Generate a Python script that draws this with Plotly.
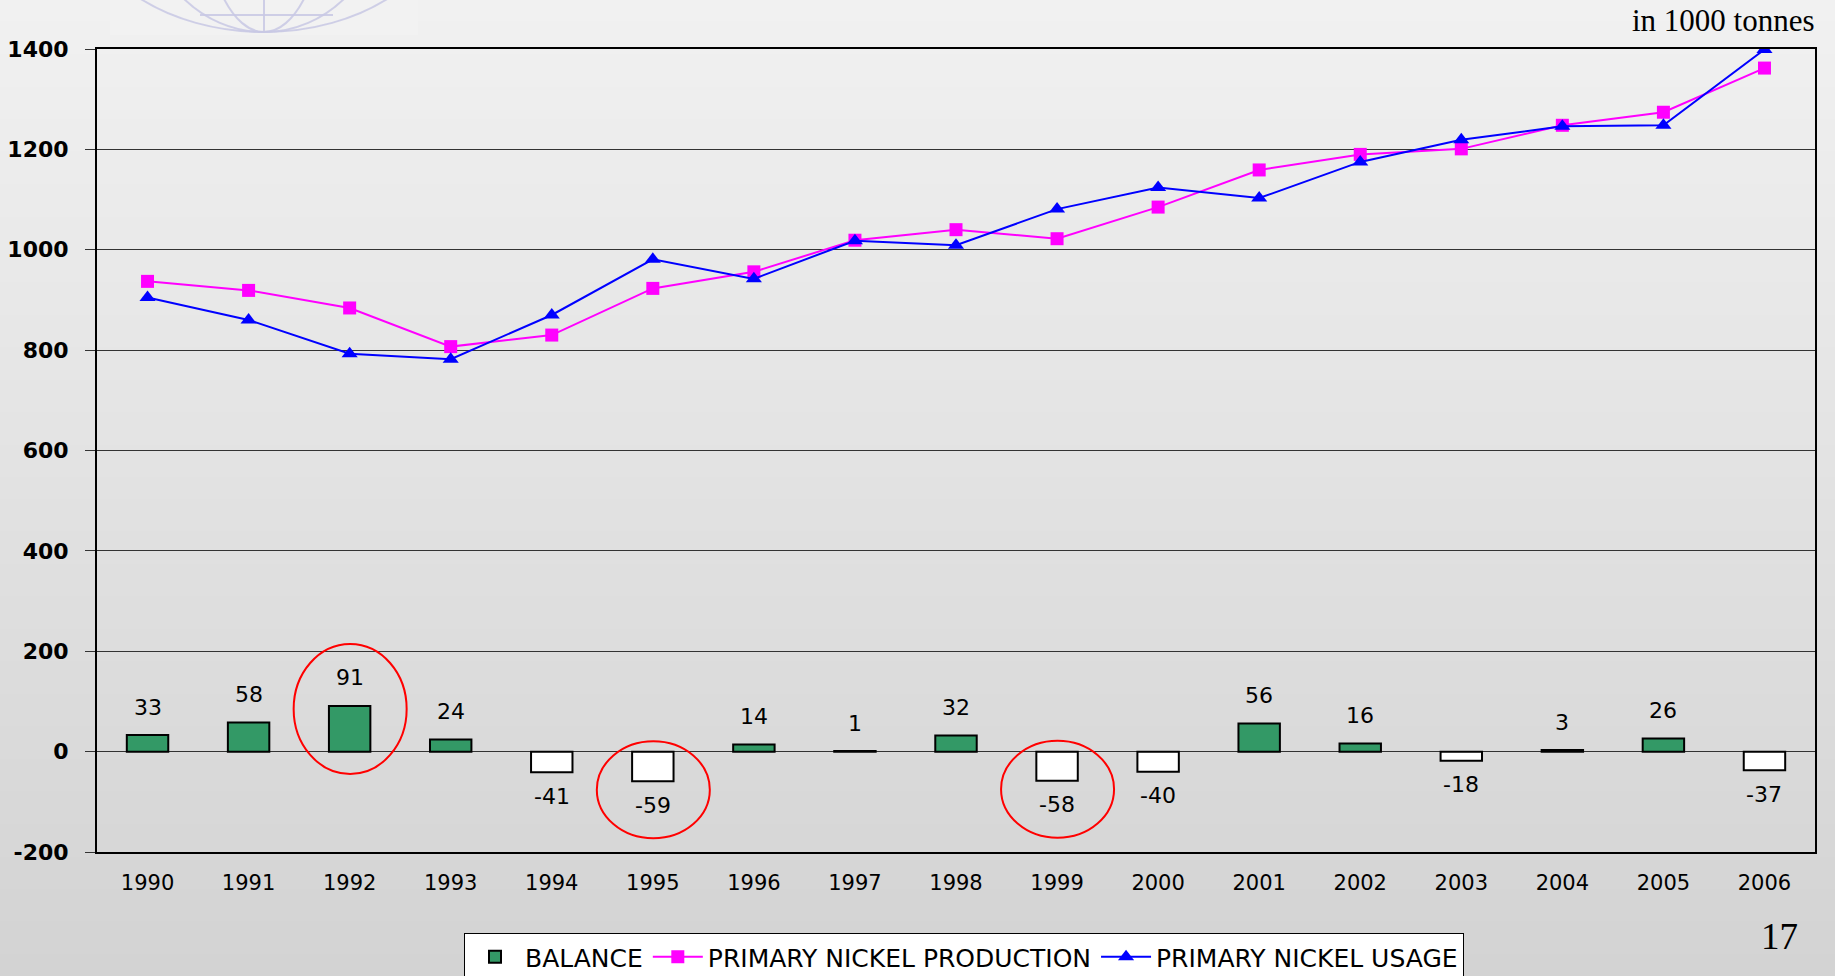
import plotly.graph_objects as go

# ---------------- data ----------------
years = list(range(1990, 2007))
tick_labels = [str(y) for y in years]
balance = [33, 58, 91, 24, -41, -59, 14, 1, 32, -58, -40, 56, 16, -18, 3, 26, -37]
production = [937, 919, 884, 807, 830, 923, 956, 1019, 1040, 1022, 1085, 1159,
              1190, 1201, 1248, 1274, 1362]
usage = [905, 860, 793, 782, 870, 981, 942, 1018, 1009, 1081, 1124, 1103,
         1175, 1219, 1246, 1248, 1399]
y_ticks = list(range(-200, 1401, 200))
y_tick_labels = [str(v) for v in y_ticks]
highlight_years = [1992, 1995, 1999]

# ---------------- layout geometry ----------------
W, H = 1835, 976
L, R, T, B = 97, 20, 49, 124
PW, PH = W - L - R, H - T - B


def px_x(p):
    return (p - L) / PW


def px_y(p):
    return (H - B - p) / PH


GREEN = "#339966"
PINK = "#FF00FF"
BLUE = "#0000FF"
FONT = "DejaVu Sans, Liberation Sans, Arial, sans-serif"
SERIF = "Liberation Serif, Times New Roman, serif"

fig = go.Figure()

fig.add_trace(go.Bar(
    x=years, y=balance, name="BALANCE",
    marker=dict(color=[GREEN if v >= 0 else "#FFFFFF" for v in balance],
                line=dict(color="black", width=2)),
    showlegend=False,
))
# legend entry for balance (green)
fig.add_trace(go.Bar(
    x=[None], y=[None], name="BALANCE",
    marker=dict(color=GREEN, line=dict(color="black", width=2)),
))
fig.add_trace(go.Scatter(
    x=years, y=production, name="PRIMARY NICKEL PRODUCTION",
    mode="lines+markers",
    line=dict(color=PINK, width=2),
    marker=dict(symbol="square", size=13, color=PINK),
))
fig.add_trace(go.Scatter(
    x=years, y=usage, name="PRIMARY NICKEL USAGE",
    mode="lines+markers",
    line=dict(color=BLUE, width=2),
    marker=dict(symbol="triangle-up", size=14, color=BLUE),
))

# data labels
annotations = []
for yr, v in zip(years, balance):
    annotations.append(dict(
        x=yr, y=v, xref="x", yref="y", text=str(v), showarrow=False,
        yshift=28 if v >= 0 else -24, yanchor="middle",
        font=dict(family=FONT, size=22, color="black"),
    ))

annotations.append(dict(
    x=px_x(1817), y=px_y(20), xref="paper", yref="paper",
    text="in 1000 tonnes", showarrow=False, xanchor="right", yanchor="middle",
    font=dict(family=SERIF, size=31, color="black"),
))
annotations.append(dict(
    x=px_x(1779), y=px_y(936), xref="paper", yref="paper",
    text="17", showarrow=False, xanchor="center", yanchor="middle",
    font=dict(family=SERIF, size=37, color="black"),
))

shapes = []
# background vertical gradient
n = 90
top = (241, 241, 241)
bot = (211, 211, 211)
for i in range(n):
    t = i / (n - 1)
    c = tuple(round(top[k] + (bot[k] - top[k]) * t) for k in range(3))
    y0 = i * H / n
    y1 = (i + 1) * H / n + 1
    shapes.append(dict(
        type="rect", xref="paper", yref="paper", layer="below",
        x0=px_x(-5), x1=px_x(W + 5), y0=px_y(y1), y1=px_y(y0),
        fillcolor="rgb(%d,%d,%d)" % c, line=dict(width=0),
    ))

# faint globe logo at the top
shapes.append(dict(type="rect", xref="paper", yref="paper", layer="below",
                   x0=px_x(110), x1=px_x(418), y0=px_y(35), y1=px_y(-2),
                   fillcolor="#F2F2F2", line=dict(width=0)))
logo_col = "rgba(200,200,228,0.85)"
cx, pole = 264, 32
for rx in (185, 120, 60):
    shapes.append(dict(type="circle", xref="paper", yref="paper", layer="below",
                       x0=px_x(cx - rx), x1=px_x(cx + rx),
                       y0=px_y(pole), y1=px_y(pole - 260),
                       line=dict(color=logo_col, width=2)))
shapes.append(dict(type="line", xref="paper", yref="paper", layer="below",
                   x0=px_x(cx), x1=px_x(cx), y0=px_y(pole), y1=px_y(-2),
                   line=dict(color=logo_col, width=2)))
shapes.append(dict(type="line", xref="paper", yref="paper", layer="below",
                   x0=px_x(200), x1=px_x(333), y0=px_y(15), y1=px_y(15),
                   line=dict(color=logo_col, width=2)))

# red highlight ellipses
for yr in highlight_years:
    v = balance[years.index(yr)]
    if v >= 0:
        y0, y1 = -68, 62
    else:
        y0, y1 = -57, 40
    shapes.append(dict(
        type="circle", xref="x", yref="y",
        xsizemode="pixel", ysizemode="pixel", xanchor=yr, yanchor=v,
        x0=-56, x1=57, y0=y0, y1=y1,
        line=dict(color="#FF0000", width=2), layer="above",
    ))

fig.update_layout(
    width=W, height=H,
    margin=dict(l=L, r=R, t=T, b=B, pad=0, autoexpand=False),
    paper_bgcolor="#E0E0E0",
    plot_bgcolor="rgba(0,0,0,0)",
    barmode="overlay",
    bargap=0.59,
    font=dict(family=FONT, color="black"),
    showlegend=True,
    legend=dict(
        orientation="h", xref="paper", x=px_x(964), xanchor="center",
        yref="container", y=(H - 933) / H, yanchor="top",
        bgcolor="white", bordercolor="black", borderwidth=1,
        font=dict(family=FONT, size=25, color="black"),
        traceorder="normal", itemwidth=50,
    ),
    annotations=annotations,
    shapes=shapes,
    xaxis=dict(
        range=[1989.5, 2006.5], tickmode="array", tickvals=years,
        ticktext=tick_labels, showgrid=False, zeroline=False,
        showline=True, linecolor="black", linewidth=2, mirror=True,
        ticks="", ticklabelstandoff=11, automargin=False,
        tickfont=dict(family=FONT, size=21, color="black"),
    ),
    xaxis2=dict(
        overlaying="x", anchor="free", position=200 / 1600,
        range=[1989.5, 2006.5], tickmode="array",
        tickvals=[y + 0.5 for y in years[:-1]], showticklabels=False,
        ticks="outside", ticklen=6, tickcolor="#808080", tickwidth=1.5,
        showline=True, linecolor="#808080", linewidth=2, showgrid=False,
        zeroline=False, automargin=False,
    ),
    yaxis=dict(
        range=[-200, 1400], tickmode="array", tickvals=y_ticks,
        ticktext=y_tick_labels,
        showgrid=True, gridcolor="#333333", gridwidth=1,
        zeroline=False, showline=True, linecolor="black", linewidth=2,
        mirror=True, ticks="outside", ticklen=10, tickcolor="#333333",
        ticklabelstandoff=12, automargin=False,
        tickfont=dict(family=FONT, size=22, color="black", weight="bold"),
    ),
)

fig.write_html(
    "out.html",
    config={"displayModeBar": False},
    post_script=(
        "document.body.style.margin='0';"
        "document.body.style.overflow='hidden';"
        "document.documentElement.style.overflow='hidden';"
    ),
)
